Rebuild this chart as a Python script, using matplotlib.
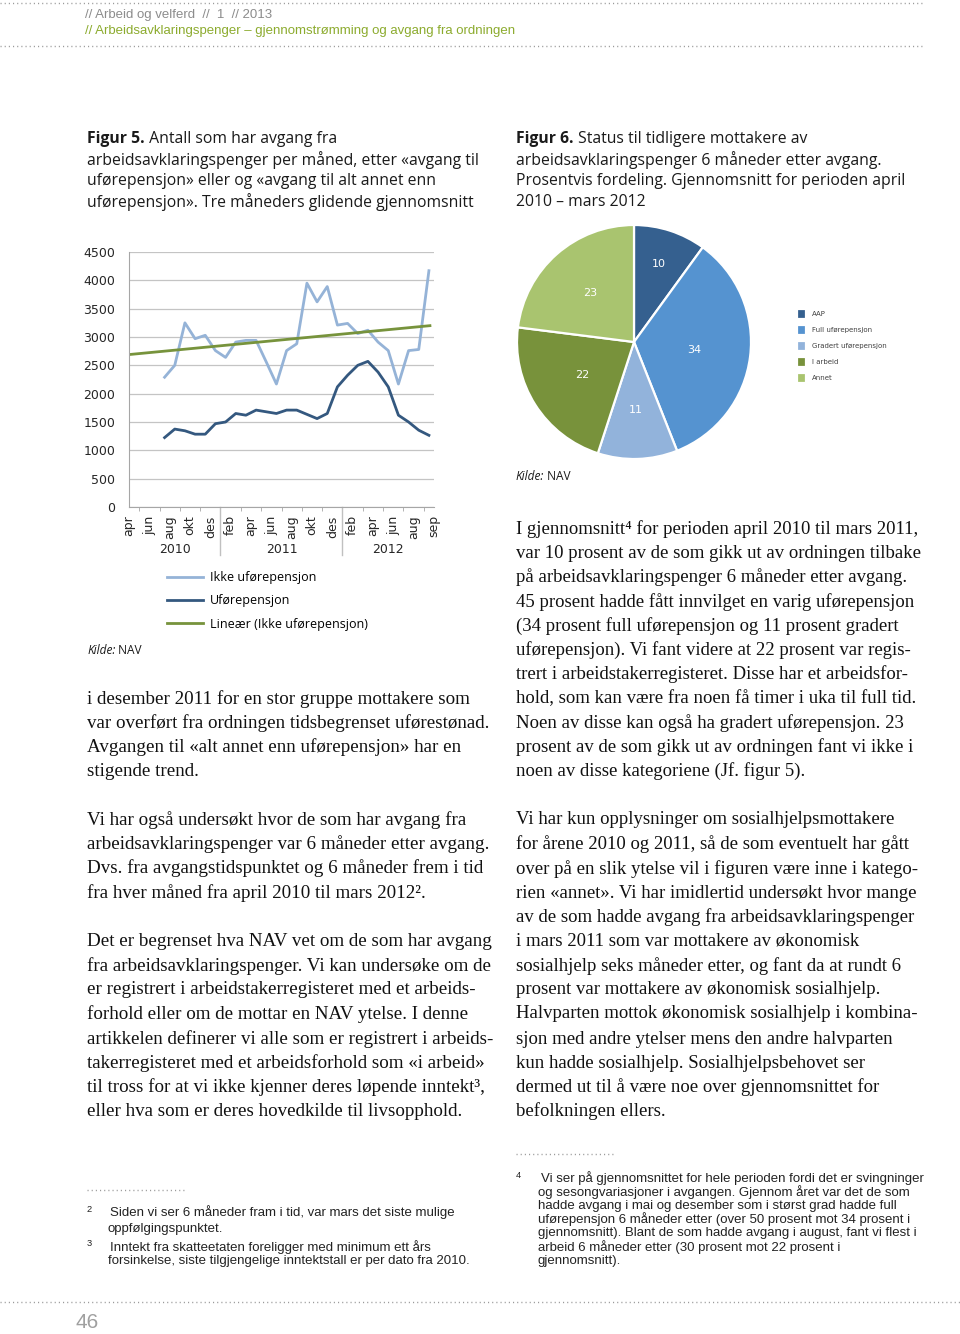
import numpy as np
import matplotlib.pyplot as plt
from matplotlib.lines import Line2D

# page size in pixels
W, H = 960, 1334

# Figur 5 data (three month moving average, jul 2010 - sep 2012)
month_labels = ['apr', 'jun', 'aug', 'okt', 'des', 'feb', 'apr', 'jun',
                'aug', 'okt', 'des', 'feb', 'apr', 'jun', 'aug', 'sep']
year_labels = ['2010', '2011', '2012']
ikke_ufore = [2290, 2500, 3250, 2970, 3030, 2760, 2640, 2910, 2940, 2940,
              2560, 2170, 2760, 2880, 3950, 3620, 3890, 3210, 3240, 3060,
              3120, 2910, 2760, 2170, 2760, 2780, 4170]
ufore = [1225, 1375, 1345, 1285, 1285, 1470, 1500, 1650, 1620, 1710,
         1680, 1650, 1710, 1710, 1635, 1560, 1650, 2120, 2325, 2500,
         2570, 2380, 2120, 1620, 1500, 1355, 1265]
trend_ends = [2690, 3200]

# Figur 6 data
pie_labels = ['AAP', 'Full uførepensjon', 'Gradert uførepensjon', 'I arbeid', 'Annet']
pie_values = [10, 34, 11, 22, 23]
pie_colors = ['#35608f', '#5593d0', '#92b3db', '#78923b', '#a9c46f']

fig = plt.figure(figsize=(9.6, 13.34), dpi=100)
fig.patch.set_facecolor('white')
rend = fig.canvas.get_renderer()

SERIF = ['Liberation Serif', 'DejaVu Serif']
SANS = ['Open Sans', 'DejaVu Sans']
NARROW = ['Liberation Sans', 'DejaVu Sans']


def fx(x):
    return x / W


def fy(y):
    return 1 - y / H


def put(x, y, s, **kw):
    kw.setdefault('va', 'center')
    return fig.text(fx(x), fy(y), s, **kw)


def width(s, **kw):
    t = fig.text(0, 0, s, **kw)
    w = t.get_window_extent(renderer=rend).width
    t.remove()
    return w


def fit(s, target, **kw):
    return 10 * target / width(s, fontsize=10, **kw)


def dots(x0, x1, y):
    fig.add_artist(Line2D([fx(x0), fx(x1)], [fy(y), fy(y)], color='#9a9a9a',
                          lw=1.0, linestyle=(0, (0.8, 2.2))))


# header
dots(0, 925, 3)
dots(0, 925, 46)
hs = fit('// Arbeidsavklaringspenger – gjennomstrømming og avgang fra ordningen', 434, family=NARROW)
put(85, 15, '// Arbeid og velferd  //  1  // 2013', fontsize=hs, family=NARROW, color='#8c8c8c')
put(85, 31, '// Arbeidsavklaringspenger – gjennomstrømming og avgang fra ordningen',
    fontsize=hs, family=NARROW, color='#8cab2e')

# captions
cs = fit('arbeidsavklaringspenger per måned, etter «avgang til', 390, family=SANS)


def caption(x, lines):
    b = put(x, lines[0][1], lines[0][0], fontsize=cs, family=SANS, weight='bold', color='#1a1a1a')
    bw = b.get_window_extent(renderer=rend).width
    put(x + bw, lines[0][1], lines[0][2], fontsize=cs, family=SANS, color='#1a1a1a')
    for s, y in lines[1:]:
        put(x, y, s, fontsize=cs, family=SANS, color='#1a1a1a')


caption(87, [('Figur 5.', 139, ' Antall som har avgang fra'),
             ('arbeidsavklaringspenger per måned, etter «avgang til', 160),
             ('uførepensjon» eller og «avgang til alt annet enn', 181),
             ('uførepensjon». Tre måneders glidende gjennomsnitt', 202)])
caption(516, [('Figur 6.', 139, ' Status til tidligere mottakere av'),
              ('arbeidsavklaringspenger 6 måneder etter avgang.', 160),
              ('Prosentvis fordeling. Gjennomsnitt for perioden april', 181),
              ('2010 – mars 2012', 202)])

# ---- Figur 5 line chart ----
ax = fig.add_axes([fx(129), fy(507), (434 - 129) / W, (507 - 252) / H])
x = np.arange(3, 30) + 0.5
l1, = ax.plot(x, ikke_ufore, color='#95b3d7', lw=2.0, label='Ikke uførepensjon')
l2, = ax.plot(x, ufore, color='#34587f', lw=2.0, label='Uførepensjon')
l3, = ax.plot([0, 29.6], trend_ends, color='#77933c', lw=2.0, label='Lineær (Ikke uførepensjon)')
ax.set_xlim(0, 30)
ax.set_ylim(0, 4500)
ax.set_yticks(np.arange(0, 4501, 500))
ax.grid(axis='y', color='#c4c4c4', lw=0.9)
ax.set_axisbelow(True)
for s in ['top', 'right']:
    ax.spines[s].set_visible(False)
for s in ['left', 'bottom']:
    ax.spines[s].set_color('#a6a6a6')
ax.tick_params(axis='y', length=0, pad=10, labelsize=9, labelcolor='#262626')
ax.set_xticks(np.arange(0, 31, 2))
ax.set_xticklabels(month_labels, rotation=90, fontsize=9, color='#262626')
ax.set_xticks(np.arange(0, 31), minor=True)
ax.tick_params(axis='x', which='major', length=0, pad=6)
ax.tick_params(axis='x', which='minor', length=3, color='#a6a6a6')
xt = ax.get_xaxis_transform()
for b in [9, 21]:
    ax.plot([b, b], [0, -0.19], transform=xt, color='#c0c0c0', lw=1, clip_on=False)
for lbl, c in zip(year_labels, [4.5, 15, 25.5]):
    ax.text(c, -0.165, lbl, transform=xt, ha='center', va='center', fontsize=9, color='#262626')

leg_fs = fit('Lineær (Ikke uførepensjon)', 156, family=SANS)
ax.legend(handles=[l1, l2, l3], loc='upper left', bbox_to_anchor=(fx(167), fy(571)),
          bbox_transform=fig.transFigure, frameon=False, prop={'family': SANS, 'size': leg_fs},
          handlelength=2.9, handletextpad=0.55, labelspacing=0.82, borderpad=0, borderaxespad=0)

ks = fit('Kilde: NAV', 57, family=SANS)


def kilde(x, y):
    k = put(x, y, 'Kilde:', fontsize=ks, family=SANS, style='italic', color='#1a1a1a')
    kw_ = k.get_window_extent(renderer=rend).width
    put(x + kw_, y, ' NAV', fontsize=ks, family=SANS, color='#1a1a1a')


kilde(87, 650)

# ---- Figur 6 pie chart ----
cx, cy, rad = 634, 342, 117
ax2 = fig.add_axes([fx(cx - rad), fy(cy + rad), 2 * rad / W, 2 * rad / H])
wedges, _, autotexts = ax2.pie(pie_values, colors=pie_colors, startangle=90, counterclock=False,
                               autopct=lambda p: '%d' % round(p), pctdistance=0.6,
                               wedgeprops=dict(edgecolor='white', linewidth=1.6),
                               textprops=dict(color='white', fontsize=8))
# label distance from centre, per slice
for w, t, d in zip(wedges, autotexts, [0.7, 0.52, 0.58, 0.52, 0.56]):
    a = np.deg2rad((w.theta1 + w.theta2) / 2)
    t.set_position((d * np.cos(a), d * np.sin(a)))
ax2.set_xlim(-1, 1)
ax2.set_ylim(-1, 1)
ax2.legend(wedges, pie_labels, loc='upper left', bbox_to_anchor=(fx(797), fy(309)),
           bbox_transform=fig.transFigure, frameon=False, fontsize=5,
           handlelength=1.3, handleheight=1.9, handletextpad=0.8, labelspacing=0.82,
           borderpad=0, borderaxespad=0, labelcolor='#404040')
kilde(516, 477)

# ---- body text ----
bs = fit('i desember 2011 for en stor gruppe mottakere som', 383, family=SERIF)
left_lines = [
    (699, 'i desember 2011 for en stor gruppe mottakere som'),
    (723, 'var overført fra ordningen tidsbegrenset uførestønad.'),
    (747, 'Avgangen til «alt annet enn uførepensjon» har en'),
    (771, 'stigende trend.'),
    (820, 'Vi har også undersøkt hvor de som har avgang fra'),
    (844, 'arbeidsavklaringspenger var 6 måneder etter avgang.'),
    (868, 'Dvs. fra avgangstidspunktet og 6 måneder frem i tid'),
    (893, 'fra hver måned fra april 2010 til mars 2012².'),
    (942, 'Det er begrenset hva NAV vet om de som har avgang'),
    (966, 'fra arbeidsavklaringspenger. Vi kan undersøke om de'),
    (990, 'er registrert i arbeidstakerregisteret med et arbeids-'),
    (1014, 'forhold eller om de mottar en NAV ytelse. I denne'),
    (1039, 'artikkelen definerer vi alle som er registrert i arbeids-'),
    (1063, 'takerregisteret med et arbeidsforhold som «i arbeid»'),
    (1087, 'til tross for at vi ikke kjenner deres løpende inntekt³,'),
    (1111, 'eller hva som er deres hovedkilde til livsopphold.'),
]
right_lines = [
    (529, 'I gjennomsnitt⁴ for perioden april 2010 til mars 2011,'),
    (553, 'var 10 prosent av de som gikk ut av ordningen tilbake'),
    (577, 'på arbeidsavklaringspenger 6 måneder etter avgang.'),
    (602, '45 prosent hadde fått innvilget en varig uførepensjon'),
    (626, '(34 prosent full uførepensjon og 11 prosent gradert'),
    (650, 'uførepensjon). Vi fant videre at 22 prosent var regis-'),
    (674, 'trert i arbeidstakerregisteret. Disse har et arbeidsfor-'),
    (699, 'hold, som kan være fra noen få timer i uka til full tid.'),
    (723, 'Noen av disse kan også ha gradert uførepensjon. 23'),
    (747, 'prosent av de som gikk ut av ordningen fant vi ikke i'),
    (771, 'noen av disse kategoriene (Jf. figur 5).'),
    (820, 'Vi har kun opplysninger om sosialhjelpsmottakere'),
    (844, 'for årene 2010 og 2011, så de som eventuelt har gått'),
    (869, 'over på en slik ytelse vil i figuren være inne i katego-'),
    (893, 'rien «annet». Vi har imidlertid undersøkt hvor mange'),
    (917, 'av de som hadde avgang fra arbeidsavklaringspenger'),
    (941, 'i mars 2011 som var mottakere av økonomisk'),
    (966, 'sosialhjelp seks måneder etter, og fant da at rundt 6'),
    (990, 'prosent var mottakere av økonomisk sosialhjelp.'),
    (1014, 'Halvparten mottok økonomisk sosialhjelp i kombina-'),
    (1039, 'sjon med andre ytelser mens den andre halvparten'),
    (1063, 'kun hadde sosialhjelp. Sosialhjelpsbehovet ser'),
    (1087, 'dermed ut til å være noe over gjennomsnittet for'),
    (1111, 'befolkningen ellers.'),
]
for y, s in left_lines:
    put(87, y, s, fontsize=bs, family=SERIF, color='#111111')
for y, s in right_lines:
    put(516, y, s, fontsize=bs * 0.985, family=SERIF, color='#111111')

# ---- footnotes ----
dots(87, 185, 1190)
dots(516, 614, 1154)
fs = fit('forsinkelse, siste tilgjengelige inntektstall er per dato fra 2010.', 363, family=NARROW)
put(87, 1209, '2', fontsize=fs * 0.7, family=NARROW, color='#222222')
put(110, 1212, 'Siden vi ser 6 måneder fram i tid, var mars det siste mulige', fontsize=fs, family=NARROW, color='#222222')
put(108, 1229, 'oppfølgingspunktet.', fontsize=fs, family=NARROW, color='#222222')
put(87, 1243, '3', fontsize=fs * 0.7, family=NARROW, color='#222222')
put(110, 1247, 'Inntekt fra skatteetaten foreligger med minimum ett års', fontsize=fs, family=NARROW, color='#222222')
put(108, 1261, 'forsinkelse, siste tilgjengelige inntektstall er per dato fra 2010.', fontsize=fs, family=NARROW, color='#222222')
put(516, 1175, '4', fontsize=fs * 0.7, family=NARROW, color='#222222')
note4 = ['Vi ser på gjennomsnittet for hele perioden fordi det er svingninger',
         'og sesongvariasjoner i avgangen. Gjennom året var det de som',
         'hadde avgang i mai og desember som i størst grad hadde full',
         'uførepensjon 6 måneder etter (over 50 prosent mot 34 prosent i',
         'gjennomsnitt). Blant de som hadde avgang i august, fant vi flest i',
         'arbeid 6 måneder etter (30 prosent mot 22 prosent i',
         'gjennomsnitt).']
for i, s in enumerate(note4):
    put(541 if i == 0 else 538, 1178 + 13.8 * i, s, fontsize=fs, family=NARROW, color='#222222')

dots(0, 960, 1302)
put(75, 1322, '46', fontsize=15, family=NARROW, color='#a0a0a0')

fig.savefig('out.png', dpi=100, facecolor='white')
